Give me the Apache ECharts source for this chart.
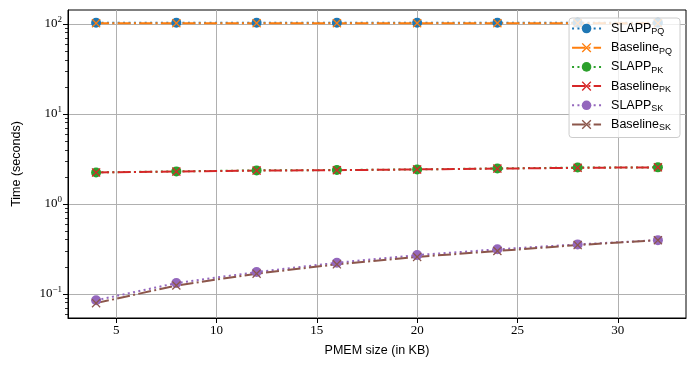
<!DOCTYPE html>
<html>
<head>
<meta charset="utf-8">
<script src="https://cdn.jsdelivr.net/npm/echarts@6/dist/echarts.min.js"></script>
<style>
  html, body { margin: 0; padding: 0; background: #fff; }
  #container { width: 697px; height: 369px; }
</style>
</head>
<body>
<div id="container"></div>
<script>
// PMEM sizes (KB)
const sizes = [4, 8, 12, 16, 20, 24, 28, 32];

// timings in seconds
const slappPQ    = [103, 103, 103, 103, 103, 103, 103, 103];
const baselinePQ = [102, 102, 102, 102, 102, 102, 102, 102];
const slappPK    = [2.24, 2.30, 2.36, 2.38, 2.42, 2.48, 2.54, 2.55];
const baselinePK = [2.24, 2.29, 2.35, 2.37, 2.42, 2.47, 2.52, 2.55];
const slappSK    = [0.085, 0.132, 0.175, 0.222, 0.270, 0.313, 0.355, 0.396];
const baselineSK = [0.079, 0.124, 0.168, 0.213, 0.258, 0.300, 0.349, 0.396];

// ticks
const xTicks = [5, 10, 15, 20, 25, 30];
const yMajor = [0.1, 1, 10, 100];
const yMinor = [0.06, 0.07, 0.08, 0.09,
                0.2, 0.3, 0.4, 0.5, 0.6, 0.7, 0.8, 0.9,
                2, 3, 4, 5, 6, 7, 8, 9,
                20, 30, 40, 50, 60, 70, 80, 90];

const container = document.getElementById('container');
const chart = echarts.init(container);

const crossPath = 'path://M0,1L1,0L5,4L9,0L10,1L6,5L10,9L9,10L5,6L1,10L0,9L4,5Z';
const tickFont = 'Liberation Serif';
const textFont = 'Liberation Sans';

function makeSeries(name, values, color, isBaseline) {
  return {
    name: name,
    type: 'line',
    data: sizes.map((s, i) => [s, values[i]]),
    symbol: isBaseline ? crossPath : 'circle',
    symbolSize: isBaseline ? 9 : 10,
    showAllSymbol: true,
    itemStyle: { color: color },
    lineStyle: {
      color: color,
      width: 2,
      cap: 'butt',
      type: isBaseline ? [13, 3.3, 2, 3.3] : [2, 3.4]
    },
    emphasis: { disabled: true },
    animation: false
  };
}

function supLabel(v) {
  const p = Math.round(Math.log10(v));
  return '{b|10}{s|' + String(p).replace('-', '\u2212') + '}';
}

const option = {
  animation: false,
  grid: {
    left: 68, right: 11, top: 10, bottom: 51,
    show: true, borderColor: '#000', borderWidth: 1, backgroundColor: 'transparent'
  },
  legend: {
    orient: 'vertical',
    right: 17,
    top: 18,
    itemWidth: 29,
    itemHeight: 12,
    itemGap: 4.7,
    padding: [4, 8, 5, 2],
    backgroundColor: 'rgba(255,255,255,0.8)',
    borderColor: '#cccccc',
    borderWidth: 1,
    borderRadius: 3,
    formatter: function (name) {
      const parts = name.split('_');
      return '{n|' + parts[0] + '}{s|' + parts[1] + '}';
    },
    textStyle: {
      rich: {
        n: { fontFamily: textFont, fontSize: 12.5, color: '#000', lineHeight: 16, padding: [0, 0, 0, 5] },
        s: { fontFamily: textFont, fontSize: 9, color: '#000', lineHeight: 9, verticalAlign: 'bottom' }
      }
    }
  },
  xAxis: {
    type: 'value',
    min: 2.6,
    max: 33.4,
    name: 'PMEM size (in KB)',
    nameLocation: 'middle',
    nameGap: 26,
    nameTextStyle: { fontFamily: textFont, fontSize: 12.5, color: '#000' },
    axisLine: { show: true, onZero: false, lineStyle: { color: '#000', width: 1 } },
    axisTick: { show: true, inside: false, length: 5, customValues: xTicks, lineStyle: { color: '#000' } },
    axisLabel: { customValues: xTicks, fontFamily: tickFont, fontSize: 13, color: '#000', margin: 6 },
    splitLine: { show: true, lineStyle: { color: '#b0b0b0', width: 1 } }
  },
  yAxis: [
    {
      type: 'log',
      logBase: 10,
      min: 0.054,
      max: 143,
      name: 'Time (seconds)',
      nameLocation: 'middle',
      nameGap: 45,
      nameTextStyle: { fontFamily: textFont, fontSize: 12.5, color: '#000' },
      axisLine: { show: true, lineStyle: { color: '#000', width: 1 } },
      axisTick: { show: true, inside: false, length: 5, customValues: yMajor, lineStyle: { color: '#000' } },
      axisLabel: {
        customValues: yMajor,
        margin: 6,
        formatter: supLabel,
        rich: {
          b: { fontFamily: tickFont, fontSize: 13, color: '#000', lineHeight: 18 },
          s: { fontFamily: tickFont, fontSize: 9, color: '#000', lineHeight: 9, verticalAlign: 'top' }
        }
      },
      splitLine: { show: true, lineStyle: { color: '#b0b0b0', width: 1 } }
    },
    {
      type: 'log',
      logBase: 10,
      min: 0.054,
      max: 143,
      position: 'left',
      axisLine: { show: false },
      axisTick: { show: true, inside: false, length: 3, customValues: yMinor, lineStyle: { color: '#000', width: 0.8 } },
      axisLabel: { show: false },
      splitLine: { show: false }
    }
  ],
  series: [
    makeSeries('SLAPP_PQ', slappPQ, '#1f77b4', false),
    makeSeries('Baseline_PQ', baselinePQ, '#ff7f0e', true),
    makeSeries('SLAPP_PK', slappPK, '#2ca02c', false),
    makeSeries('Baseline_PK', baselinePK, '#d62728', true),
    makeSeries('SLAPP_SK', slappSK, '#9467bd', false),
    makeSeries('Baseline_SK', baselineSK, '#8c564b', true)
  ]
};

chart.setOption(option);
</script>
</body>
</html>
